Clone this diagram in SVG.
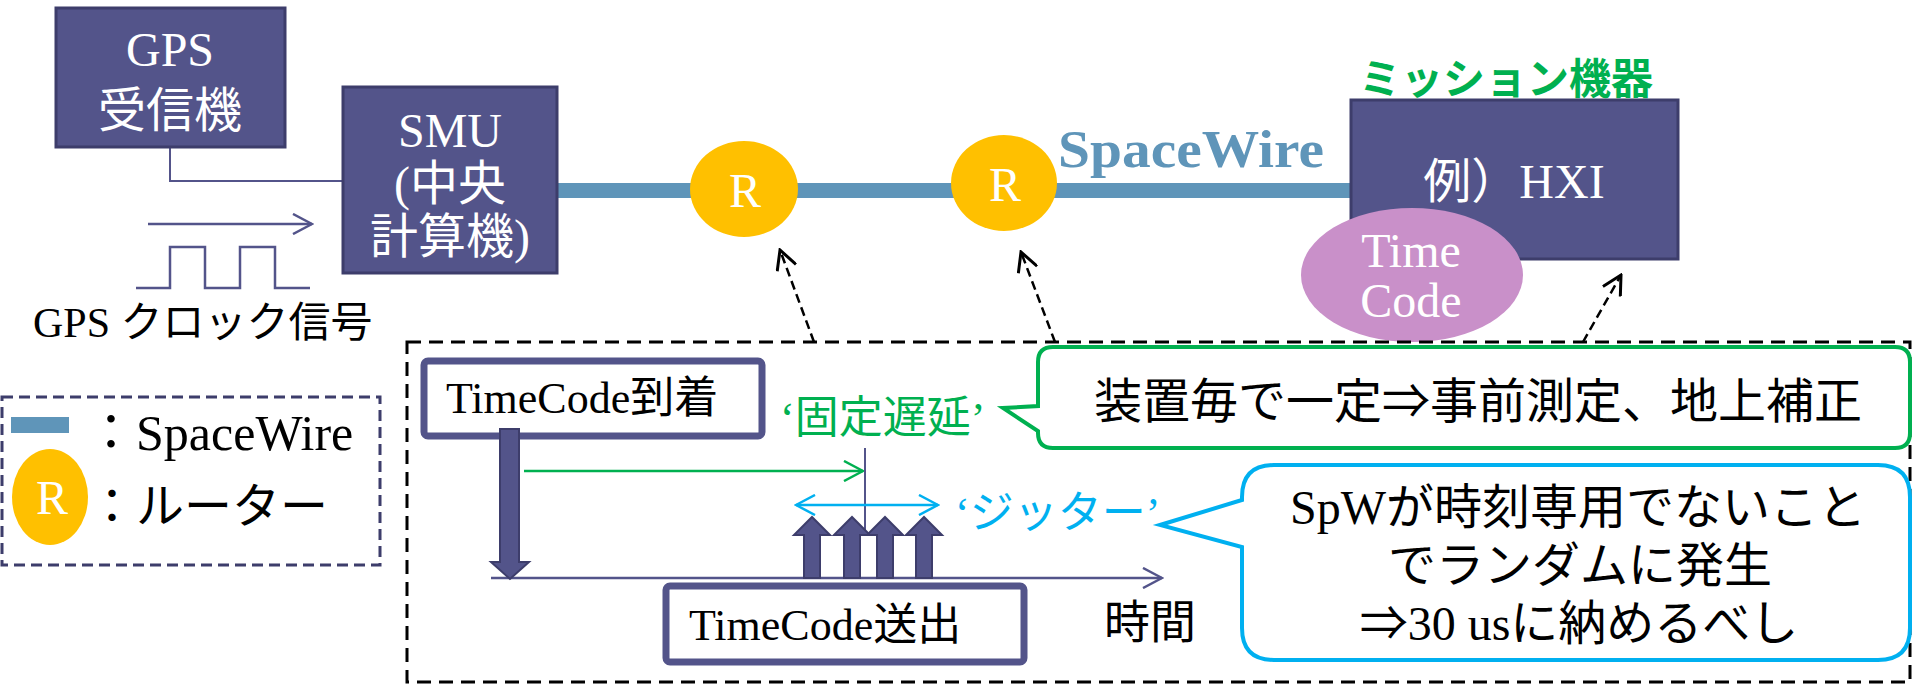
<svg xmlns="http://www.w3.org/2000/svg" width="1915" height="685" viewBox="0 0 1915 685">
<style>
text{font-family:'Liberation Serif','Noto Sans CJK JP',serif;}
.box{fill:#53548A;stroke:#3D3D6B;stroke-width:3;}
.wt{fill:#FFFFFF;font-size:48px;text-anchor:middle;}
.bk{fill:#000000;}
.router{fill:#FFC000;}
.tcbox{fill:#FFFFFF;stroke:#53548A;stroke-width:7;}
.thick{fill:#53548A;stroke:#3D3D6B;stroke-width:2;}
.dash{fill:none;stroke:#000000;stroke-width:2.5;stroke-dasharray:9 5;}
</style>
<defs>
<marker id="ahP" markerUnits="userSpaceOnUse" viewBox="0 0 22 22" refX="20" refY="11" markerWidth="22" markerHeight="22" orient="auto"><path d="M1,1 L20,11 L1,21" fill="none" stroke="#53548A" stroke-width="2.5"/></marker>
<marker id="ahG" markerUnits="userSpaceOnUse" viewBox="0 0 22 22" refX="20" refY="11" markerWidth="22" markerHeight="22" orient="auto"><path d="M1,1 L20,11 L1,21" fill="none" stroke="#00B050" stroke-width="2.5"/></marker>
<marker id="ahB" markerUnits="userSpaceOnUse" viewBox="0 0 22 22" refX="20" refY="11" markerWidth="22" markerHeight="22" orient="auto-start-reverse"><path d="M1,1 L20,11 L1,21" fill="none" stroke="#00B0F0" stroke-width="2.5"/></marker>
<marker id="ahK" markerUnits="userSpaceOnUse" viewBox="0 0 22 22" refX="20" refY="11" markerWidth="22" markerHeight="22" orient="auto"><path d="M1,1 L20,11 L1,21" fill="none" stroke="#000000" stroke-width="3"/></marker>
</defs>
<rect width="1915" height="685" fill="#FFFFFF"/>

<g id="connectors">
<path d="M170,147 V181 H343" fill="none" stroke="#53548A" stroke-width="2"/>
<line x1="557" y1="190.5" x2="1351" y2="190.5" stroke="#5F95B9" stroke-width="15"/>
<line x1="148" y1="224" x2="312" y2="224" stroke="#53548A" stroke-width="2.5" marker-end="url(#ahP)"/>
<path d="M136,288 H170 V247 H205 V288 H240 V247 H275 V288 H310" fill="none" stroke="#53548A" stroke-width="2.5"/>
<line x1="814" y1="342" x2="780" y2="250" class="dash" marker-end="url(#ahK)"/>
<line x1="1055" y1="342" x2="1021" y2="252" class="dash" marker-end="url(#ahK)"/>
<line x1="1583" y1="342" x2="1621" y2="275" class="dash" marker-end="url(#ahK)"/>
</g>

<g id="gps-receiver">
<rect class="box" x="56" y="8" width="229" height="139"/>
<text class="wt" x="170" y="66">GPS</text>
<text class="wt" x="170" y="127">受信機</text>
</g>

<g id="smu">
<rect class="box" x="343" y="87" width="214" height="186"/>
<text class="wt" x="450" y="147">SMU</text>
<text class="wt" x="450" y="200">(中央</text>
<text class="wt" x="450" y="253">計算機)</text>
</g>

<g id="gps-clock-label">
<text class="bk" x="33" y="337" font-size="42">GPS クロック信号</text>
</g>

<g id="router1">
<ellipse class="router" cx="744" cy="189" rx="54" ry="48"/>
<text class="wt" x="745" y="207">R</text>
</g>
<g id="router2">
<ellipse class="router" cx="1004" cy="183" rx="53" ry="48"/>
<text class="wt" x="1005" y="201">R</text>
</g>

<g id="spacewire-label">
<text x="1058" y="167" font-size="52" font-weight="bold" fill="#5F95B9" textLength="266" lengthAdjust="spacingAndGlyphs">SpaceWire</text>
</g>

<g id="mission">
<text x="1359" y="94" font-size="42" font-weight="bold" fill="#00B050">ミッション機器</text>
<rect class="box" x="1351" y="100" width="327" height="159"/>
<text class="wt" x="1514" y="198">例）HXI</text>
</g>

<g id="timecode">
<ellipse cx="1412" cy="275" rx="111" ry="67" fill="#C990C9"/>
<text class="wt" x="1411" y="267" font-size="44">Time</text>
<text class="wt" x="1411" y="317" font-size="44">Code</text>
</g>

<g id="legend">
<rect x="2" y="397" width="378" height="168" fill="none" stroke="#3D3D6B" stroke-width="3" stroke-dasharray="11 6"/>
<rect x="11" y="417" width="58" height="16" fill="#5F95B9"/>
<text class="bk" x="86" y="450" font-size="50">：SpaceWire</text>
<ellipse class="router" cx="50" cy="497" rx="38" ry="48"/>
<text class="wt" x="52" y="514">R</text>
<text class="bk" x="88" y="523" font-size="48">：ルーター</text>
</g>

<g id="timing-panel">
<rect x="407" y="342" width="1503" height="340" fill="none" stroke="#000000" stroke-width="3" stroke-dasharray="14 8"/>
</g>

<g id="tc-arrive">
<rect class="tcbox" x="424" y="361" width="338" height="75" rx="4"/>
<text class="bk" x="446" y="413" font-size="44">TimeCode到着</text>
</g>

<g id="time-axis">
<line x1="491" y1="578" x2="1162" y2="578" stroke="#53548A" stroke-width="2.5" marker-end="url(#ahP)"/>
<text class="bk" x="1104" y="638" font-size="46">時間</text>
</g>

<g id="arrive-arrow">
<polygon class="thick" points="500,429 519,429 519,562 529,562 510,579 491,562 500,562"/>
</g>

<g id="fixed-delay">
<line x1="524" y1="471" x2="863" y2="471" stroke="#00B050" stroke-width="2.5" marker-end="url(#ahG)"/>
<line x1="865" y1="448" x2="865" y2="532" stroke="#53548A" stroke-width="2"/>
<text x="780" y="433" font-size="44" fill="#00B050">‘固定遅延’</text>
</g>

<g id="jitter">
<line x1="796" y1="505" x2="938" y2="505" stroke="#00B0F0" stroke-width="2.5" marker-start="url(#ahB)" marker-end="url(#ahB)"/>
<text x="955" y="528" font-size="44" fill="#00B0F0">‘ジッター’</text>
</g>

<g id="send-arrows">
<polygon class="thick" points="804,578 804,535 794,535 812,517 830,535 820,535 820,578"/>
<polygon class="thick" points="844,578 844,535 834,535 852,517 870,535 860,535 860,578"/>
<polygon class="thick" points="877,578 877,535 867,535 885,517 903,535 893,535 893,578"/>
<polygon class="thick" points="916,578 916,535 906,535 924,517 942,535 932,535 932,578"/>
</g>

<g id="tc-send">
<rect class="tcbox" x="666" y="586" width="358" height="76" rx="4"/>
<text class="bk" x="689" y="640" font-size="44">TimeCode送出</text>
</g>

<g id="callout-fixed">
<path d="M1053,347 H1895 Q1910,347 1910,362 V433 Q1910,448 1895,448 H1053 Q1038,448 1038,433 V431 L1003,408 L1038,406 V362 Q1038,347 1053,347 Z" fill="#FFFFFF" stroke="#00B050" stroke-width="4"/>
<text class="bk" x="1478" y="418" font-size="48" text-anchor="middle">装置毎で一定⇒事前測定、地上補正</text>
</g>

<g id="callout-jitter">
<path d="M1274,465 H1878 Q1910,465 1910,497 V628 Q1910,660 1878,660 H1274 Q1242,660 1242,628 V547 L1160,525 L1242,500 V497 Q1242,465 1274,465 Z" fill="#FFFFFF" stroke="#00B0F0" stroke-width="4"/>
<text class="bk" x="1578" y="524" font-size="48" text-anchor="middle">SpWが時刻専用でないこと</text>
<text class="bk" x="1580" y="582" font-size="48" text-anchor="middle">でランダムに発生</text>
<text class="bk" x="1579" y="640" font-size="48" text-anchor="middle">⇒30 usに納めるべし</text>
</g>
</svg>
